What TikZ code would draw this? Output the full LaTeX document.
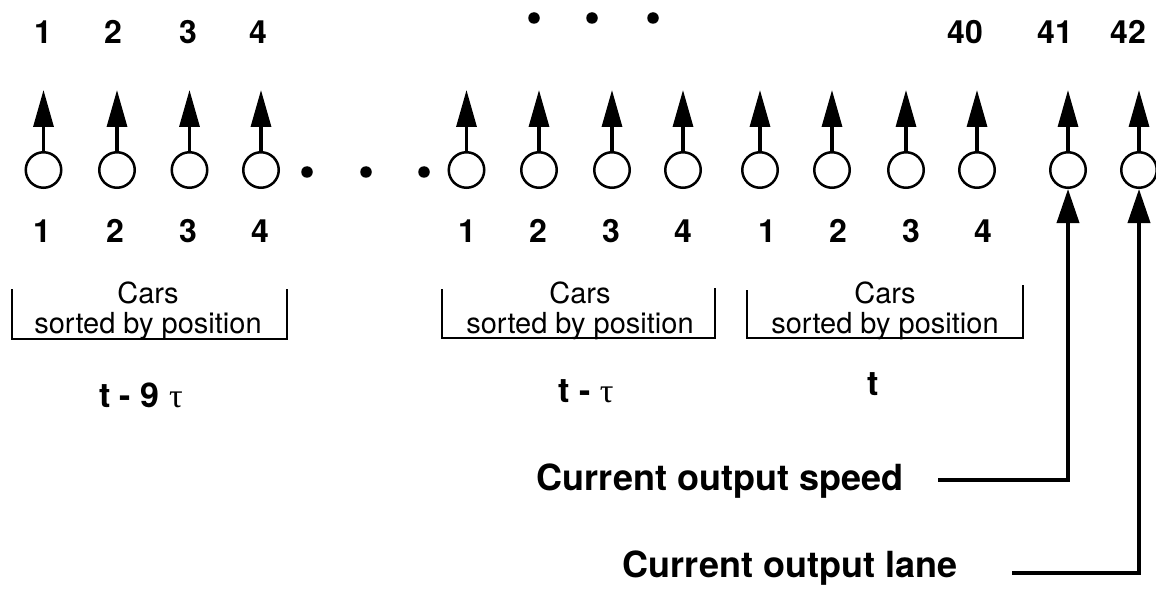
\documentclass[tikz,border=0pt]{standalone}
\usepackage{fontspec}
\setmainfont{TeX Gyre Heros}
\newfontfamily\greekfont{Liberation Serif}
\usepackage{tikz}
\usetikzlibrary{arrows.meta}

\newcommand{\tdelay}{{\greekfont\mdseries τ}}

\begin{document}
\begin{tikzpicture}[x=1pt, y=-1pt,
    every node/.style={inner sep=0pt},
    unit/.style={draw, circle, line width=2.5pt, minimum size=35.5pt},
    idx/.style={font=\fontsize{32}{32}\selectfont\bfseries, anchor=base},
    cars/.style={font=\fontsize{29}{30}\selectfont, anchor=base},
    tlab/.style={font=\fontsize{34}{34}\selectfont\bfseries, anchor=base},
    outlab/.style={font=\fontsize{36}{36}\selectfont\bfseries, anchor=base},
    dot/.style={fill, circle, minimum size=11.5pt},
    brk/.style={line width=1.8pt},
    arr/.style={-{Triangle[length=37pt,width=20pt]}, line width=3.3pt},
    feed/.style={-{Triangle[length=34pt,width=22pt]}, line width=3.8pt}]
  \useasboundingbox (0,0) rectangle (1156,596);
  % input units and their outputs
  \foreach \n/\x in {a1/43.5, a2/117, a3/189.5, a4/261,
                     b1/466.5, b2/539, b3/612, b4/683,
                     c1/760, c2/832, c3/906, c4/977, s41/1068, s42/1139} {
    \node[unit] (\n) at (\x,170) {};
    \coordinate (\n-out) at (\x,90);
    \draw[arr] (\n) -- (\n-out);
  }
  % numbers above and below
  \foreach \t/\x in {1/43, 2/113, 3/188, 4/258, 40/965, 41/1055, 42/1128}
    \node[idx] (top\t) at (\x,44) {\t};
  \foreach \t/\x [count=\i] in {1/42, 2/115, 3/188, 4/260, 1/467, 2/538, 3/611, 4/683,
                               1/767, 2/838, 3/911, 4/983}
    \node[idx] (bot\i) at (\x,242) {\t};
  % skipped units
  \foreach \x [count=\i] in {307, 366, 424}
    \node[dot] (gap\i) at (\x,172) {};
  \foreach \x [count=\i] in {534, 592, 653}
    \node[dot] (skip\i) at (\x,18) {};
  % groups of cars
  \node[cars] (hdA) at (148,303) {Cars};
  \node[cars] (srtA) at (148,333) {sorted by position};
  \node[cars] (hdB) at (580,303) {Cars};
  \node[cars] (srtB) at (580,333) {sorted by position};
  \node[cars] (hdC) at (885,303) {Cars};
  \node[cars] (srtC) at (885,333) {sorted by position};
  \draw[brk] (12,289) |- (287,339) -- (287,289);
  \draw[brk] (442,289) |- (715,338) -- (715,288);
  \draw[brk] (747,290) |- (1023,338) -- (1023,285);
  \node[tlab] (tA) at (141,407) {t - 9 \tdelay};
  \node[tlab] (tB) at (586,402) {t - \tdelay};
  \node[tlab] (tC) at (873,395) {t};
  % current outputs fed back
  \node[outlab] (spd) at (720,490) {Current output speed};
  \node[outlab] (lan) at (790,577) {Current output lane};
  \coordinate (spd-in) at (938,480);
  \coordinate (lan-in) at (1012,573);
  \draw[feed] (spd-in) -| (s41);
  \draw[feed] (lan-in) -| (s42);
\end{tikzpicture}
\end{document}
